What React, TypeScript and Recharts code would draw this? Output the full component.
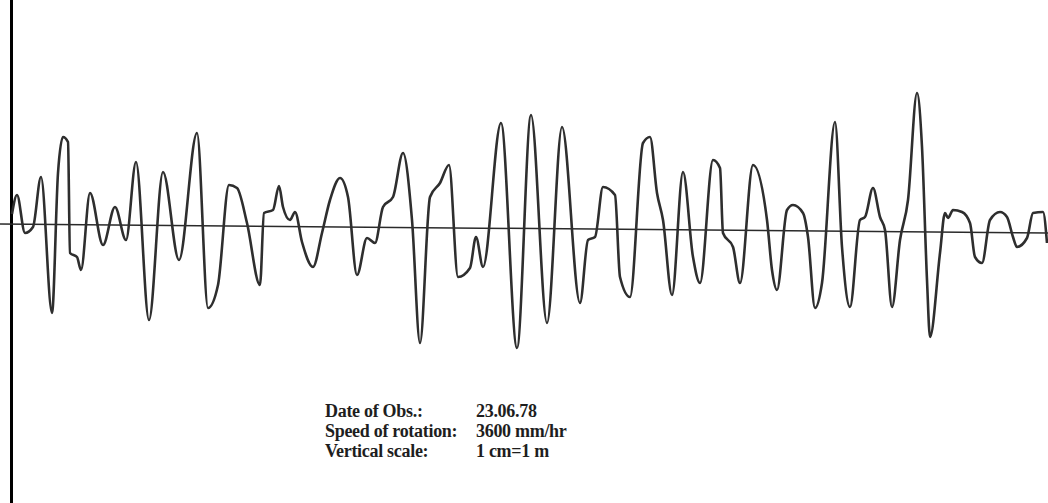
import { LineChart, Line, XAxis, YAxis, ReferenceLine } from 'recharts'

// chart time (mm along the drum) and water level above the still-water line
const times = [
  12, 17, 25, 33, 41, 52, 58, 63, 68, 70, 77, 81, 90, 103, 115, 126, 136, 149, 163, 179,
  197, 208, 218, 229, 237, 247, 260, 264, 273, 279, 283, 290, 295, 302, 313, 322, 330, 340,
  348, 357, 367, 375, 383, 393, 403, 412, 420, 430, 440, 449, 458, 470, 476, 483, 501, 517,
  531, 547, 562, 580, 588, 595, 603, 615, 620, 630, 643, 650, 657, 663, 672, 683, 693, 700,
  713, 720, 723, 733, 740, 753, 767, 772, 777, 787, 793, 803, 808, 815, 822, 835, 842, 850,
  860, 865, 873, 880, 885, 892, 900, 908, 917, 922, 927, 930, 940, 945, 948, 953, 962, 970,
  975, 982, 990, 1000, 1007, 1013, 1017, 1027, 1033, 1043, 1047,
]

const heights = [
  1.4, 3.3, -0.5, 0.1, 5.1, -8.5, 5.5, 9.1, 8.6, -2.5, -2.9, -4.2, 3.5, -1.7, 2.1, -1.2, 6.6, -9.2, 5.6, -3.2,
  9.5, -8.0, -5.7, 4.3, 4.0, 0.5, -5.7, 1.5, 1.8, 4.2, 2.1, 0.8, 1.6, -1.4, -3.9, -0.5, 2.8, 5.0,
  3.1, -4.7, -1.0, -1.5, 2.1, 3.1, 7.5, 0.8, -11.5, 3.1, 4.5, 6.3, -4.9, -4.0, -0.9, -3.9, 10.5, -12.0,
  11.3, -9.5, 10.1, -7.5, -1.2, -0.9, 4.1, 3.3, -4.9, -6.9, 8.5, 9.1, 3.5, 0.8, -6.7, 5.6, -2.9, -5.5,
  6.8, 6.0, -0.5, -1.9, -5.5, 6.3, 0.8, -4.2, -6.2, 1.8, 2.3, 1.5, -0.9, -8.0, -5.5, 10.6, -1.9, -7.9,
  0.8, 1.1, 4.0, 1.1, -0.2, -7.9, -1.2, 2.8, 13.5, 8.1, -5.2, -10.9, -2.5, 1.5, 1.0, 1.8, 1.6, 0.5,
  -2.9, -3.5, 0.8, 1.6, 1.1, -0.9, -1.9, -1.0, 1.5, 1.6, -1.5,
]

// still-water line drifts slightly across the record
const zeroLineStart = 0.4
const zeroLineEnd = -0.5

const infoLabels = ['Date of Obs.:', 'Speed of rotation:', 'Vertical scale:']
const infoValues = ['23.06.78', '3600 mm/hr', '1 cm=1 m']

const data = times.map((t, i) => ({ t, h: heights[i] }))

export default function App() {
  return (
    <div
      style={{
        position: 'absolute',
        left: 0,
        top: 0,
        width: 1048,
        height: 503,
        background: '#fff',
        overflow: 'hidden',
      }}
    >
      <LineChart width={1048} height={503} data={data} margin={{ top: 0, right: 0, left: 0, bottom: 0 }}>
        <XAxis dataKey="t" type="number" domain={[0, 1048]} hide />
        <YAxis type="number" domain={[-27.5, 22.8]} hide />
        <ReferenceLine x={11.5} stroke="#000" strokeWidth={3} />
        <ReferenceLine
          segment={[
            { x: 0, y: zeroLineStart },
            { x: 1048, y: zeroLineEnd },
          ]}
          stroke="#2a2a2a"
          strokeWidth={1.5}
        />
        <Line
          dataKey="h"
          type="monotone"
          stroke="#2e2e2e"
          strokeWidth={2.6}
          dot={false}
          activeDot={false}
          isAnimationActive={false}
        />
      </LineChart>
      <div
        style={{
          position: 'absolute',
          left: 325,
          top: 401,
          fontFamily: '"Liberation Serif", serif',
          fontSize: 18,
          fontWeight: 'bold',
          lineHeight: '20px',
          letterSpacing: -0.3,
          color: '#1e1e1e',
        }}
      >
        {infoLabels.map((label, i) => (
          <div key={label} style={{ display: 'flex' }}>
            <span style={{ width: 151 }}>{label}</span>
            <span>{infoValues[i]}</span>
          </div>
        ))}
      </div>
    </div>
  )
}
